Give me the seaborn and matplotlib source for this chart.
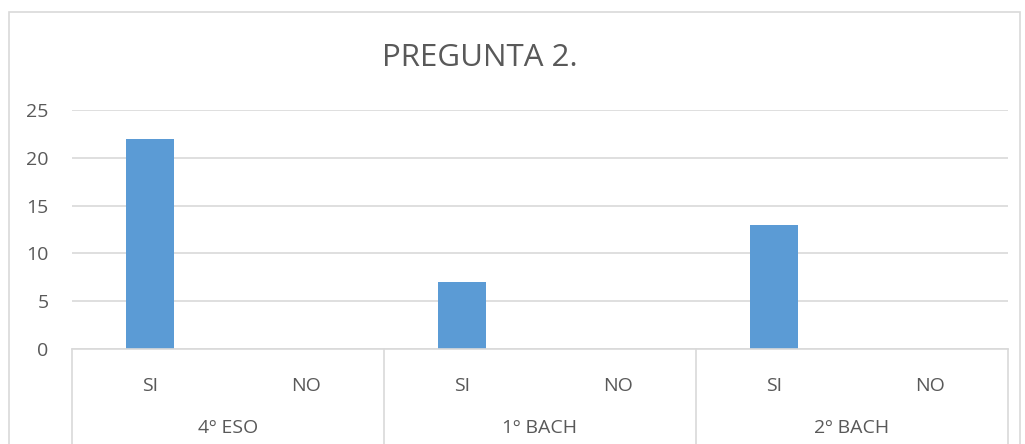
import matplotlib
matplotlib.use("Agg")
import matplotlib.pyplot as plt
import matplotlib.transforms as mtransforms
from matplotlib.patches import Rectangle
import seaborn as sns
import pandas as pd

groups = ["4º ESO", "1º BACH", "2º BACH"]
answers = ["SI", "NO"]
values_si = [22, 7, 13]
values_no = [0, 0, 0]
yticks = [0, 5, 10, 15, 20, 25]
title = "PREGUNTA 2."

rows = []
for g, s, n in zip(groups, values_si, values_no):
    rows.append({"key": g + "|SI", "group": g, "answer": "SI", "value": s})
    rows.append({"key": g + "|NO", "group": g, "answer": "NO", "value": n})
df = pd.DataFrame(rows)
order = list(df["key"])

sns.set_theme(style="white")
plt.rcParams["font.family"] = ["Open Sans", "DejaVu Sans"]
txt = "#595959"
grid = "#D9D9D9"
fs = 14

fig = plt.figure(figsize=(10.25, 4.44), dpi=100)
ax = fig.add_axes([72 / 1025, 1 - 349 / 444, (1008 - 72) / 1025, (349 - 110) / 444])

sns.barplot(data=df, x="key", y="value", order=order, color="#5B9BD5",
            width=0.31, saturation=1, ax=ax, errorbar=None, linewidth=0)

ax.set_ylim(0, 25)
ax.set_xlim(-0.5, len(order) - 0.5)
ax.set_yticks(yticks)
ax.set_yticklabels([str(t) for t in yticks], color=txt, fontsize=fs)
ax.tick_params(axis="y", length=0, pad=17)
ax.set_xticks(range(len(order)))
ax.set_xticklabels(list(df["answer"]), color=txt, fontsize=fs)
ax.tick_params(axis="x", length=0, pad=20)
ax.set_xlabel("")
ax.set_ylabel("")
ax.yaxis.grid(True, color=grid, linewidth=1.2)
ax.set_axisbelow(True)
for s in ["top", "right", "left"]:
    ax.spines[s].set_visible(False)
ax.spines["bottom"].set_color(grid)
ax.spines["bottom"].set_linewidth(1.2)

trans = mtransforms.blended_transform_factory(ax.transData, ax.transAxes)
for i in range(len(groups) + 1):
    xpos = i * 2 - 0.5
    ax.plot([xpos, xpos], [0, -0.45], transform=trans, color=grid,
            linewidth=1.2, clip_on=False)
for i, g in enumerate(groups):
    ax.text(i * 2 + 0.5, -79 / 239, g, transform=trans, ha="center",
            va="center", color=txt, fontsize=fs)

fig.text(480 / 1025, 1 - 58 / 444, title, ha="center", va="center",
         color=txt, fontsize=22.5)

fig.patches.append(Rectangle((8.5 / 1025, -0.1), (1020 - 8.5) / 1025,
                             1.1 - 12.5 / 444, transform=fig.transFigure,
                             fill=False, edgecolor=grid, linewidth=1.2))

fig.savefig("out.png", dpi=100)
